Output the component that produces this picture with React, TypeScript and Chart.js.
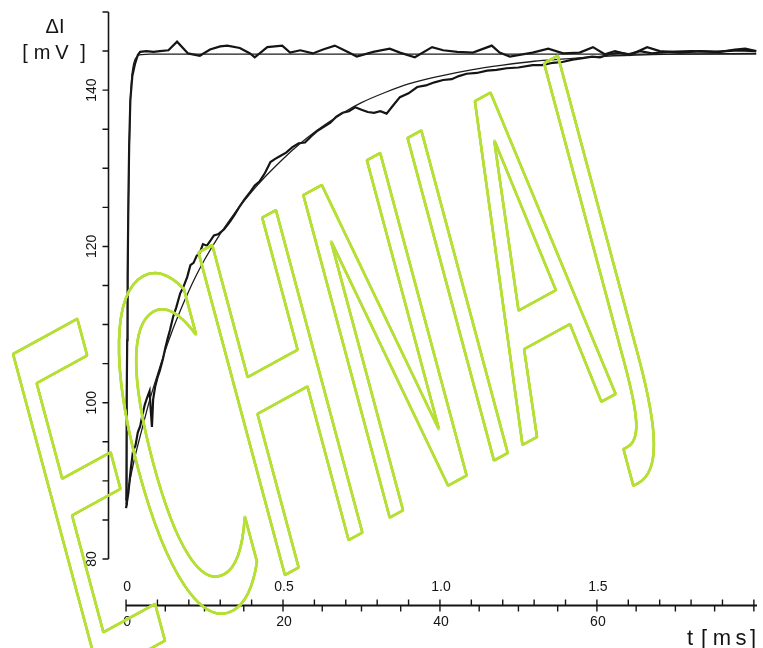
import React, { useEffect, useRef } from 'react';
import { Chart, registerables } from 'chart.js';

Chart.register(...registerables);

// ---- data (t in ms, ΔI in mV) ----
const fastTraceT = [0, 0.05, 0.1, 0.15, 0.2, 0.3, 0.4, 0.55, 0.8, 1.15, 1.5, 1.8, 2.6, 3.5, 4.3, 5.4, 6.5, 7.9, 9.4, 10.7, 12.0, 12.9, 14.5, 15.8, 16.4, 18.0, 19.9, 20.9, 22.2, 23.8, 25.1, 26.6, 28.2, 29.4, 31.5, 33.6, 34.9, 36.8, 39.0, 40.4, 42.2, 44.2, 46.6, 47.6, 48.9, 51.8, 53.8, 55.7, 57.8, 59.5, 61.0, 62.3, 64.2, 66.4, 68.0, 70.6, 73.1, 75.7, 77.6, 78.9, 80.3];
const fastTraceV = [87.0, 92, 100, 108, 116, 126, 133, 138.8, 141.8, 143.4, 144.5, 144.9, 145.0, 144.9, 145.0, 145.1, 146.2, 144.7, 144.4, 145.2, 145.6, 145.7, 145.4, 144.7, 144.2, 145.5, 145.7, 144.8, 145.1, 144.7, 145.2, 145.7, 144.9, 144.3, 144.9, 145.3, 144.8, 144.2, 145.5, 145.1, 144.9, 144.8, 145.7, 144.8, 144.3, 144.8, 145.3, 144.7, 144.8, 145.5, 144.6, 145.0, 144.5, 145.5, 145.0, 144.8, 145.0, 144.9, 145.2, 145.3, 145.0];

const fastFitT = [0, 0.05, 0.1, 0.15, 0.2, 0.28, 0.38, 0.5, 0.7, 1.0, 1.4, 2.0, 3.0, 80.3];
const fastFitV = [87.5, 93, 100, 107, 114, 123, 131, 137, 141.3, 143.5, 144.3, 144.55, 144.6, 144.6];

const slowTraceT = [0, 0.3, 0.6, 0.9, 1.2, 1.5, 1.8, 2.1, 2.4, 2.7, 3.0, 3.15, 3.3, 3.45, 3.7, 4.0, 4.3, 4.7, 5.0, 5.3, 5.6, 6.0, 6.4, 6.9, 7.3, 7.8, 8.2, 8.6, 9.0, 9.4, 9.8, 10.3, 10.8, 11.2, 11.8, 12.5, 13.2, 13.8, 14.4, 15.0, 15.7, 16.4, 17.0, 17.7, 18.4, 19.0, 19.7, 20.4, 21.2, 22.0, 22.8, 23.6, 24.4, 25.2, 26.0, 26.8, 27.6, 28.4, 29.2, 30.0, 30.8, 31.6, 32.4, 33.2, 34.0, 34.9, 36.0, 37.1, 38.2, 39.3, 40.4, 41.5, 42.4, 43.4, 44.7, 46.0, 47.2, 48.5, 50.0, 51.8, 53.0, 54.4, 55.6, 56.9, 58.2, 59.4, 60.4, 61.6, 62.8, 64.0, 65.5, 67.0, 69.0, 72.0, 75.0, 78.0, 80.3];
const slowTraceV = [86.5, 88.5, 91.5, 93.9, 94.5, 96.2, 97.0, 98.5, 99.8, 100.7, 101.5, 99.0, 96.9, 100.4, 102.0, 103.2, 104.1, 105.6, 107.0, 108.2, 109.3, 111.0, 112.2, 114.0, 114.8, 116.1, 117.6, 117.9, 118.8, 119.2, 120.3, 120.1, 120.8, 121.4, 121.6, 122.2, 123.1, 124.0, 125.0, 125.9, 126.8, 127.8, 128.3, 129.4, 130.8, 131.2, 131.6, 132.0, 132.7, 133.2, 133.3, 134.1, 134.8, 135.3, 135.8, 136.6, 137.1, 137.3, 137.8, 137.5, 137.2, 137.1, 137.3, 137.0, 138.0, 139.1, 139.6, 140.4, 140.6, 141.0, 141.3, 141.4, 141.8, 142.1, 142.2, 142.5, 142.6, 142.8, 142.9, 143.2, 143.2, 143.5, 143.6, 143.9, 144.1, 144.3, 144.2, 144.6, 144.8, 144.6, 145.0, 144.7, 144.9, 145.0, 144.9, 145.1, 145.0];

const slowFitT = [0, 1, 2, 3, 4, 5, 6, 7, 8, 9, 10, 12, 14, 16, 18, 20, 22, 24, 26, 28, 30, 33, 36, 40, 44, 48, 52, 56, 60, 65, 70, 80.3];
const slowFitV = [87.5, 92.5, 96.5, 100.3, 103.6, 106.7, 109.5, 112, 114.3, 116.4, 118.3, 121.6, 124.5, 127, 129.2, 131.2, 133, 134.6, 136, 137.3, 138.4, 139.7, 140.8, 141.8, 142.6, 143.2, 143.7, 144.0, 144.3, 144.5, 144.6, 144.7];

// ---- axes ----
const yMin = 80;
const yMax = 150;
const xMin = -2.3;
const xMax = 80.4;
const yTickValues = [80, 85, 90, 95, 100, 105, 110, 115, 120, 125, 130, 135, 140, 145, 150];
const yLabelValues = [80, 100, 120, 140];
const xUpperTickValues = [0, 4, 8, 12, 16, 20, 24, 28, 32, 36, 40, 44, 48, 52, 56, 60, 64, 68, 72, 76, 80];
const xLowerTickValues = [0, 5, 10, 15, 20, 25, 30, 35, 40, 45, 50, 55, 60, 65, 70, 75, 80];
const xLabelPositions = [0, 20, 40, 60];
const xUpperLabels = ['0', '0.5', '1.0', '1.5'];
const xLowerLabels = ['0', '20', '40', '60'];
const yTitleTop = 'ΔI';
const yTitleBottom = ['[', 'm', 'V', ']'];
const xTitle = ['t', '[', 'm', 's', ']'];
const watermarkText = 'ECHNIAJ';

const ink = '#141414';
const green = '#b6df38';

const toPoints = (t: number[], v: number[]) => t.map((x, i) => ({ x, y: v[i] }));

function drawWatermark(ctx: CanvasRenderingContext2D, w: number, h: number) {
  const fontPx = 458;
  const hs = 0.347;
  const ang = (-28.7 * Math.PI) / 180;
  const a = hs * Math.cos(ang);
  const b = hs * Math.sin(ang);
  const up = (15 * Math.PI) / 180;
  const c = Math.sin(up);
  const d = Math.cos(up);
  const ox = 85.8;
  const oy = 684;
  const r = 1.3;
  const offsets: number[][] = [];
  for (let i = 0; i < 16; i++) {
    const th = (i / 16) * Math.PI * 2;
    offsets.push([r * Math.cos(th), r * Math.sin(th)]);
  }
  const font = `${fontPx}px "DejaVu Sans", sans-serif`;
  const dil = document.createElement('canvas');
  dil.width = w;
  dil.height = h;
  const dctx = dil.getContext('2d')!;
  dctx.font = font;
  dctx.fillStyle = green;
  offsets.forEach(([dx, dy]) => {
    dctx.setTransform(a, b, c, d, ox + dx, oy + dy);
    dctx.fillText(watermarkText, 0, 0);
  });
  const ero = document.createElement('canvas');
  ero.width = w;
  ero.height = h;
  const ectx = ero.getContext('2d')!;
  ectx.font = font;
  ectx.fillStyle = '#000';
  ectx.setTransform(a, b, c, d, ox, oy);
  ectx.fillText(watermarkText, 0, 0);
  ectx.globalCompositeOperation = 'destination-in';
  offsets.forEach(([dx, dy]) => {
    ectx.setTransform(a, b, c, d, ox + dx, oy + dy);
    ectx.fillText(watermarkText, 0, 0);
  });
  dctx.setTransform(1, 0, 0, 1, 0, 0);
  dctx.globalCompositeOperation = 'destination-out';
  dctx.drawImage(ero, 0, 0);
  ctx.drawImage(dil, 0, 0);
}

const paperAxes = {
  id: 'paperAxes',
  afterDraw(chart: any) {
    const ctx: CanvasRenderingContext2D = chart.ctx;
    const xs = chart.scales.x;
    const ys = chart.scales.y;
    ctx.save();
    ctx.strokeStyle = ink;
    ctx.fillStyle = ink;
    ctx.lineCap = 'butt';

    // y axis
    const ax = Math.round(xs.left) + 0.5;
    ctx.lineWidth = 1.6;
    ctx.beginPath();
    ctx.moveTo(ax, ys.getPixelForValue(yMax));
    ctx.lineTo(ax, ys.getPixelForValue(yMin));
    ctx.stroke();
    ctx.lineWidth = 1.4;
    ctx.beginPath();
    yTickValues.forEach((v) => {
      const py = ys.getPixelForValue(v);
      ctx.moveTo(ax - 6, py);
      ctx.lineTo(ax, py);
    });
    ctx.stroke();
    ctx.font = '14px "Liberation Sans", Arial, sans-serif';
    ctx.textAlign = 'center';
    ctx.textBaseline = 'middle';
    yLabelValues.forEach((v) => {
      const py = ys.getPixelForValue(v);
      ctx.save();
      ctx.translate(ax - 16, py);
      ctx.rotate(-Math.PI / 2);
      ctx.fillText(String(v), 0, 0);
      ctx.restore();
    });

    // y title
    ctx.font = '20px "Liberation Sans", Arial, sans-serif';
    ctx.textAlign = 'center';
    ctx.textBaseline = 'alphabetic';
    ctx.fillText(yTitleTop, 55, 33);
    const ybx = [25, 42, 62, 83];
    yTitleBottom.forEach((ch, i) => ctx.fillText(ch, ybx[i], 59));

    // x axis (detached, below the plot)
    const ay = Math.round(ys.bottom + 46) + 0.5;
    ctx.lineWidth = 1.8;
    ctx.beginPath();
    ctx.moveTo(xs.getPixelForValue(0), ay);
    ctx.lineTo(xs.right, ay);
    ctx.stroke();
    ctx.lineWidth = 1.4;
    ctx.beginPath();
    xUpperTickValues.forEach((v) => {
      const px = xs.getPixelForValue(v);
      ctx.moveTo(px, ay);
      ctx.lineTo(px, ay - 6);
    });
    xLowerTickValues.forEach((v) => {
      const px = xs.getPixelForValue(v);
      ctx.moveTo(px, ay);
      ctx.lineTo(px, ay + 6);
    });
    ctx.stroke();
    ctx.font = '14px "Liberation Sans", Arial, sans-serif';
    ctx.textAlign = 'center';
    ctx.textBaseline = 'middle';
    xLabelPositions.forEach((v, i) => {
      const px = xs.getPixelForValue(v);
      ctx.fillText(xUpperLabels[i], px + 1, ay - 18);
      ctx.fillText(xLowerLabels[i], px + 1, ay + 17);
    });
    ctx.font = '22px "Liberation Sans", Arial, sans-serif';
    ctx.textBaseline = 'alphabetic';
    const txs = [690, 704, 722, 741, 753];
    xTitle.forEach((ch, i) => ctx.fillText(ch, txs[i], 645));
    ctx.restore();

    drawWatermark(ctx, chart.width, chart.height);
  },
};

export default function App() {
  const ref = useRef<HTMLCanvasElement | null>(null);
  useEffect(() => {
    document.body.style.margin = '0';
    document.body.style.background = '#fff';
    const canvas = ref.current!;
    const chart = new Chart(canvas, {
      type: 'line',
      data: {
        datasets: [
          {
            data: toPoints(slowFitT, slowFitV),
            borderColor: '#1c1c1c',
            borderWidth: 1.3,
            pointRadius: 0,
            cubicInterpolationMode: 'monotone',
          },
          {
            data: toPoints(fastFitT, fastFitV),
            borderColor: '#1c1c1c',
            borderWidth: 1.3,
            pointRadius: 0,
            cubicInterpolationMode: 'monotone',
          },
          {
            data: toPoints(slowTraceT, slowTraceV),
            borderColor: ink,
            borderWidth: 2.2,
            pointRadius: 0,
            tension: 0,
          },
          {
            data: toPoints(fastTraceT, fastTraceV),
            borderColor: ink,
            borderWidth: 2.2,
            pointRadius: 0,
            tension: 0,
          },
        ],
      },
      options: {
        responsive: false,
        animation: false,
        devicePixelRatio: 1,
        layout: { padding: { left: 108, right: 6, top: 12, bottom: 89 } },
        scales: {
          x: { type: 'linear', min: xMin, max: xMax, display: false },
          y: { type: 'linear', min: yMin, max: yMax, display: false },
        },
        plugins: {
          legend: { display: false },
          tooltip: { enabled: false },
        },
      },
      plugins: [paperAxes],
    } as any);
    return () => chart.destroy();
  }, []);
  return (
    <div style={{ width: 763, height: 648, background: '#fff' }}>
      <canvas ref={ref} width={763} height={648} />
    </div>
  );
}
